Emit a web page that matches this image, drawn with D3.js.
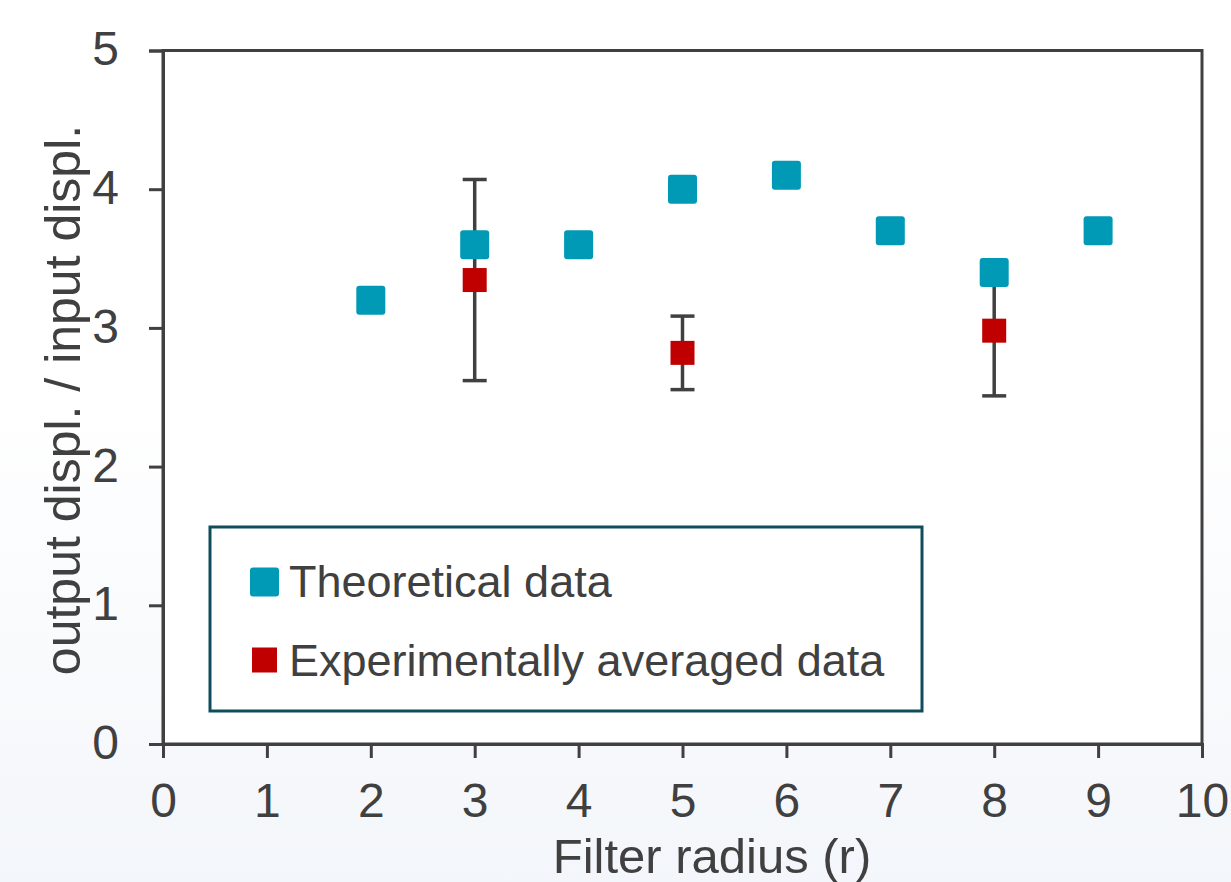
<!DOCTYPE html>
<html>
<head>
<meta charset="utf-8">
<script src="https://cdn.jsdelivr.net/npm/d3@7"></script>
<style>
  html, body { margin: 0; padding: 0; background: #fff; }
  svg text { font-family: "Liberation Sans", Arial, sans-serif; fill: #404040; }
</style>
</head>
<body>
<div id="chart"></div>
<script>
// values
var theoryX = [2, 3, 4, 5, 6, 7, 8, 9];
var theoryY = [3.2, 3.6, 3.6, 4.0, 4.1, 3.7, 3.4, 3.7];
var expX = [3, 5, 8];
var expY = [3.345, 2.82, 2.98];
var expErr = [0.725, 0.265, 0.47];
var xTicks = [0, 1, 2, 3, 4, 5, 6, 7, 8, 9, 10];
var yTicks = [0, 1, 2, 3, 4, 5];
var legendLabels = ['Theoretical data', 'Experimentally averaged data'];

var W = 1231, H = 882;
var margin = { top: 50.5, right: 29, bottom: 138, left: 163 };
var axisColor = '#404040', cyan = '#0099b6', red = '#c00000';

var svg = d3.select('#chart').append('svg')
    .attr('width', W)
    .attr('height', H);

// faint background wash like the source slide
var defs = svg.append('defs');
var grad = defs.append('linearGradient')
    .attr('id', 'bg').attr('x1', 0).attr('y1', 0).attr('x2', 0).attr('y2', 1);
grad.append('stop').attr('offset', '0.45').attr('stop-color', '#ffffff');
grad.append('stop').attr('offset', '1').attr('stop-color', '#f3f6fa');
svg.append('rect').attr('width', W).attr('height', H).attr('fill', 'url(#bg)');

var x = d3.scaleLinear().domain([0, 10]).range([margin.left, W - margin.right]);
var y = d3.scaleLinear().domain([0, 5]).range([H - margin.bottom, margin.top]);

// plot area
svg.append('rect')
    .attr('x', x(0)).attr('y', y(5))
    .attr('width', x(10) - x(0)).attr('height', y(0) - y(5))
    .attr('fill', '#fff')
    .attr('stroke', axisColor)
    .attr('stroke-width', 3);

// axes
var xAxis = svg.append('g')
    .attr('transform', 'translate(0,' + y(0) + ')')
    .call(d3.axisBottom(x).tickValues(xTicks).tickSize(14).tickPadding(25).tickFormat(d3.format('d')));
var yAxis = svg.append('g')
    .attr('transform', 'translate(' + x(0) + ',0)')
    .call(d3.axisLeft(y).tickValues(yTicks).tickSize(14).tickPadding(30).tickFormat(d3.format('d')));

[xAxis, yAxis].forEach(function(g) {
  g.select('.domain').attr('stroke', axisColor).attr('stroke-width', 3);
  g.selectAll('.tick line').attr('stroke', axisColor).attr('stroke-width', 3);
  g.selectAll('.tick text')
      .attr('fill', axisColor)
      .style('font-size', '48px')
      .style('font-family', '"Liberation Sans", Arial, sans-serif');
});
yAxis.selectAll('.tick text').attr('dy', '0.3em');

// axis titles
svg.append('text')
    .attr('x', 712)
    .attr('y', 873)
    .attr('text-anchor', 'middle')
    .style('font-size', '49px')
    .text('Filter radius (r)');

svg.append('text')
    .attr('transform', 'translate(80,' + 400 + ')rotate(-90)')
    .attr('text-anchor', 'middle')
    .style('font-size', '50px')
    .text('output displ. / input displ.');

// error bars for the experimental points
var capW = 24;
var errG = svg.append('g')
    .attr('stroke', axisColor)
    .attr('stroke-width', 3.5);
expX.forEach(function(d, i) {
  var top = y(expY[i] + expErr[i]), bot = y(expY[i] - expErr[i]);
  errG.append('line').attr('x1', x(d)).attr('x2', x(d)).attr('y1', top).attr('y2', bot);
  errG.append('line').attr('x1', x(d) - capW / 2).attr('x2', x(d) + capW / 2).attr('y1', top).attr('y2', top);
  errG.append('line').attr('x1', x(d) - capW / 2).attr('x2', x(d) + capW / 2).attr('y1', bot).attr('y2', bot);
});

// experimental markers
var rs = 24;
svg.selectAll('.exp')
    .data(expX)
    .enter()
    .append('rect')
      .attr('class', 'exp')
      .attr('x', function(d) { return x(d) - rs / 2; })
      .attr('y', function(d, i) { return y(expY[i]) - rs / 2; })
      .attr('width', rs)
      .attr('height', rs)
      .attr('fill', red);

// theoretical markers
var cs = 29;
svg.selectAll('.theory')
    .data(theoryX)
    .enter()
    .append('rect')
      .attr('class', 'theory')
      .attr('x', function(d) { return x(d) - cs / 2; })
      .attr('y', function(d, i) { return y(theoryY[i]) - cs / 2; })
      .attr('width', cs)
      .attr('height', cs)
      .attr('rx', 3)
      .attr('fill', cyan);

// legend
var leg = svg.append('g');
leg.append('rect')
    .attr('x', 210).attr('y', 527)
    .attr('width', 712).attr('height', 184)
    .attr('fill', '#fff')
    .attr('stroke', '#0f4c5c')
    .attr('stroke-width', 3);

var legendRows = [
  { label: legendLabels[0], color: cyan, size: 29, cy: 582, base: 597, rx: 3 },
  { label: legendLabels[1], color: red, size: 25, cy: 660, base: 676, rx: 0 }
];
legendRows.forEach(function(r) {
  leg.append('rect')
      .attr('x', 264.5 - r.size / 2).attr('y', r.cy - r.size / 2)
      .attr('width', r.size).attr('height', r.size)
      .attr('rx', r.rx)
      .attr('fill', r.color);
  leg.append('text')
      .attr('x', 289)
      .attr('y', r.base)
      .style('font-size', '45px')
      .text(r.label);
});
</script>
</body>
</html>
